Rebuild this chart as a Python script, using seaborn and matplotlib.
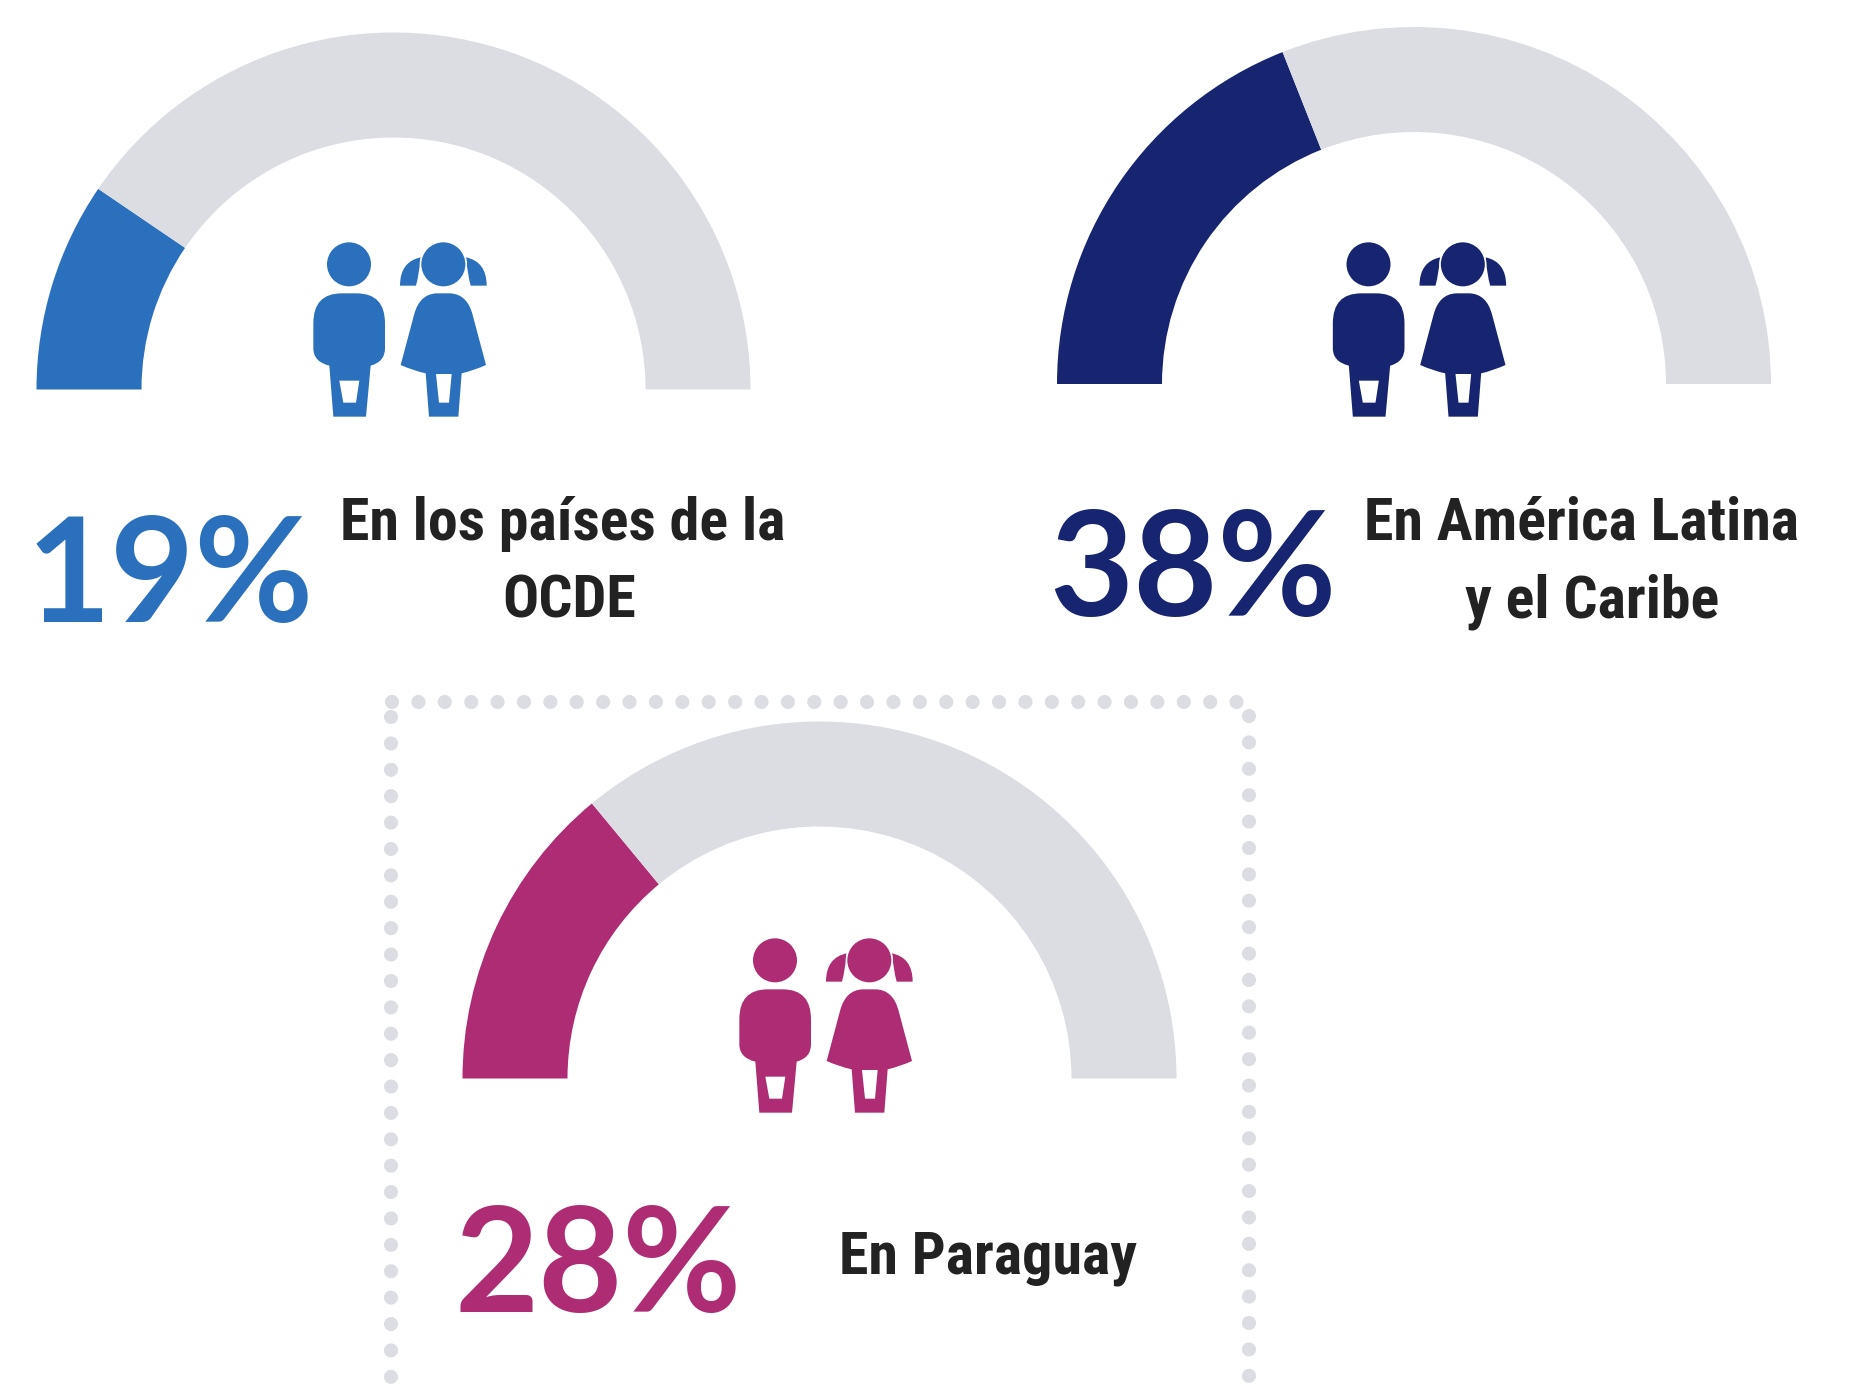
import matplotlib
matplotlib.use("Agg")
import matplotlib.pyplot as plt
import pandas as pd
import seaborn as sns
from matplotlib.patches import Circle, PathPatch
from matplotlib.path import Path

# =====================================
# Data
# =====================================

shares = [19, 38, 28]
share_labels = ["19%", "38%", "28%"]
label_lines = [
    ["En los países de la", "OCDE"],
    ["En América Latina", "y el Caribe"],
    ["En Paraguay"],
]
colors = ["#2B70BC", "#172570", "#AD2C74"]
track_color = "#DCDDE3"
text_color = "#222222"

# =====================================
# Layout (pixels of the 1850x1397 picture)
# =====================================

gauge_x = [393.5, 1414, 819.5]
gauge_y = [389.5, 384, 1078.5]
outer_r = 357
ring_w = 105

icon_dx = [280, 1299.5, 706]
icon_dy = [220, 220, 916]

pct_x = [27, 1049, 455]
pct_y = [622, 616, 1312]

label_x = [[563, 569], [1582, 1592], [988]]
label_y = [[540, 618], [540, 618], [1273]]

border_side = ["left", "left", "top", "top", "right", "right"]
border_x = [391, 391, 392, 1240, 1249, 1249]
border_y = [717, 1420, 702, 702, 716, 1420]

sns.set_theme(style="white")

fig = plt.figure(figsize=(18.5, 13.97), dpi=100, facecolor="white")
ax = fig.add_axes([0, 0, 1, 1])


def curve(points):
    verts, codes = [], []
    for i, p in enumerate(points):
        if len(p) == 4:
            verts += [(p[0], p[1]), (p[2], p[3])]
            codes += [Path.CURVE3, Path.CURVE3]
        else:
            verts.append(p)
            codes.append(Path.MOVETO if i == 0 else Path.LINETO)
    verts.append(points[0])
    codes.append(Path.CLOSEPOLY)
    return verts, codes


def shape(parts, dx, dy, color):
    verts, codes = [], []
    for part in parts:
        v, c = curve(part)
        verts += [(x / 3 + dx, y / 3 + dy) for x, y in v]
        codes += c
    ax.add_patch(PathPatch(Path(verts, codes), facecolor=color, edgecolor="none"))


def draw_icon(dx, dy, color):
    # boy
    ax.add_patch(Circle((207 / 3 + dx, 133 / 3 + dy), 66 / 3, facecolor=color, edgecolor="none"))
    shape([
        [(185, 220), (230, 220), (315, 220, 315, 310), (315, 385), (315, 425, 272, 437),
         (258, 590), (160, 590), (148, 437), (100, 425, 100, 385), (100, 310), (100, 220, 185, 220)],
        [(178, 482), (190, 548), (228, 548), (238, 482)],
    ], dx, dy, color)
    # girl
    shape([[(360, 197), (360, 125, 422, 112), (418, 160, 408, 197)]], dx, dy, color)
    shape([[(620, 197), (620, 125, 558, 112), (562, 160, 572, 197)]], dx, dy, color)
    ax.add_patch(Circle((490 / 3 + dx, 133 / 3 + dy), 71 / 3, facecolor="white", edgecolor="none"))
    ax.add_patch(Circle((490 / 3 + dx, 133 / 3 + dy), 66 / 3, facecolor=color, edgecolor="none"))
    shape([
        [(470, 220), (510, 220), (562, 222, 578, 285), (618, 435), (580, 452, 545, 460),
         (535, 590), (447, 590), (437, 460), (400, 452, 362, 435), (402, 285), (418, 222, 470, 220)],
        [(468, 462), (477, 548), (507, 548), (515, 462)],
    ], dx, dy, color)


# =====================================
# Gauges
# =====================================

for i, share in enumerate(shares):
    ax.pie(
        [share, 100 - share, 100],
        colors=[colors[i], track_color, "none"],
        center=(gauge_x[i], gauge_y[i]),
        radius=outer_r,
        startangle=180,
        counterclock=True,
        wedgeprops={"width": ring_w, "linewidth": 0},
    )
    draw_icon(icon_dx[i], icon_dy[i], colors[i])
    ax.text(pct_x[i], pct_y[i], share_labels[i], color=colors[i], family="Lato",
            fontweight="bold", fontsize=104.5, ha="left", va="baseline")
    for line, lx, ly in zip(label_lines[i], label_x[i], label_y[i]):
        ax.text(lx, ly, line, color=text_color, family="Roboto Condensed",
                fontweight="bold", fontsize=43.2, ha="center", va="baseline")

# =====================================
# Dotted frame round Paraguay
# =====================================

border = pd.DataFrame({"side": border_side, "x": border_x, "y": border_y})
sns.lineplot(
    data=border, x="x", y="y", units="side", sort=False, estimator=None, ax=ax,
    color=track_color, linewidth=10.2, linestyle=(0, (0.001, 1.862)),
    dash_capstyle="round", legend=False,
)

ax.set_xlim(0, 1850)
ax.set_ylim(1397, 0)
ax.set_aspect("equal")
ax.set_xlabel("")
ax.set_ylabel("")
ax.axis("off")

fig.savefig("out.png", dpi=100)
